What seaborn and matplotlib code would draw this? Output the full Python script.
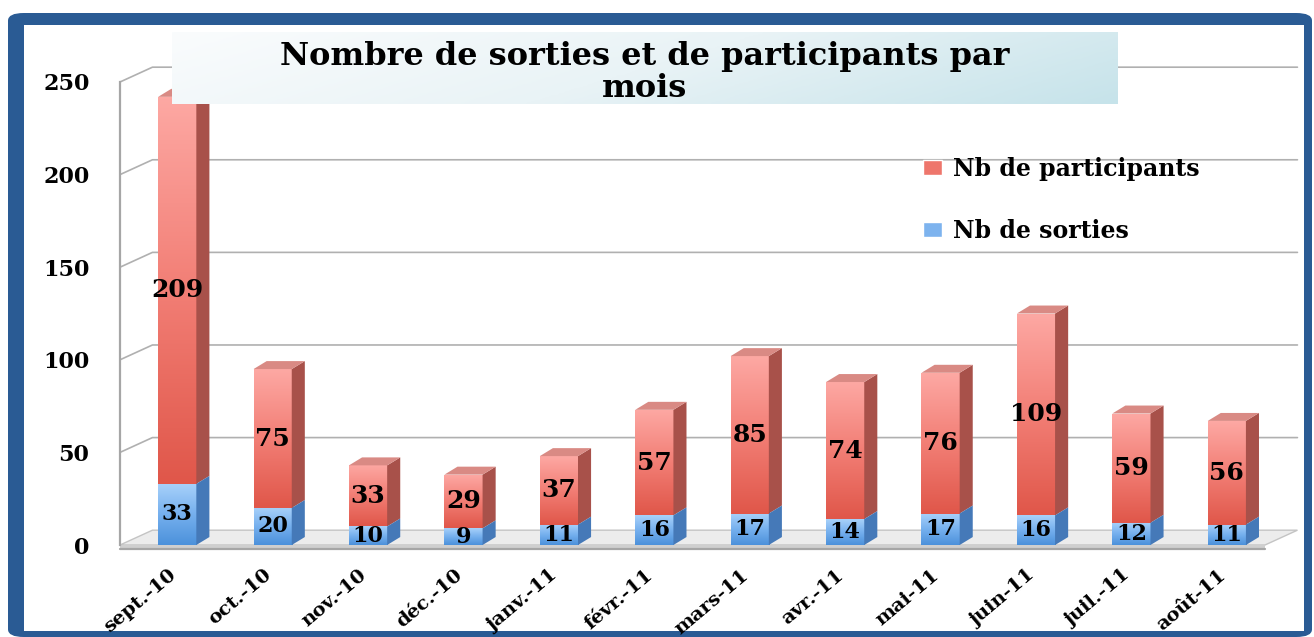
import numpy as np
import pandas as pd
import seaborn as sns
import matplotlib.pyplot as plt
from matplotlib.patches import Polygon, Rectangle, FancyBboxPatch
from matplotlib.colors import LinearSegmentedColormap

# donnees
mois = ['sept.-10', 'oct.-10', 'nov.-10', 'déc.-10', 'janv.-11', 'févr.-11',
        'mars-11', 'avr.-11', 'mai-11', 'juin-11', 'juil.-11', 'août-11']
nb_sorties = [33, 20, 10, 9, 11, 16, 17, 14, 17, 16, 12, 11]
nb_participants = [209, 75, 33, 29, 37, 57, 85, 74, 76, 109, 59, 56]
y_ticks = [0, 50, 100, 150, 200, 250]

dados = pd.DataFrame({'mois': mois, 'sorties': nb_sorties, 'participants': nb_participants})
dados['total'] = dados['sorties'] + dados['participants']

sns.set_style('white')
plt.rcParams['font.family'] = ['DejaVu Serif']
plt.rcParams['font.weight'] = 'bold'
plt.rcParams['text.color'] = 'black'
plt.rcParams['xtick.labelcolor'] = 'black'
plt.rcParams['ytick.labelcolor'] = 'black'

W, H = 1314, 637
fig = plt.figure(figsize=(W / 100, H / 100), dpi=100)

# cadre bleu
fig.patches.append(FancyBboxPatch((8 / W, 0), 1304 / W, 624 / H, boxstyle='round,pad=0,rounding_size=0.012',
                                  transform=fig.transFigure, facecolor='#2A5B94', edgecolor='none', zorder=-2))
fig.patches.append(Rectangle((24 / W, 6 / H), 1280 / W, 606 / H, transform=fig.transFigure,
                             facecolor='white', edgecolor='none', zorder=-1))

ax = fig.add_axes([120 / W, (H - 545) / H, (1265 - 120) / W, (545 - 82) / H])
ax.patch.set_alpha(0)

rouge = '#E45B4E'
bleu = '#5B9BE0'
sns.barplot(x='mois', y='total', data=dados, color=rouge, width=0.4, ax=ax, order=mois)
sns.barplot(x='mois', y='sorties', data=dados, color=bleu, width=0.4, ax=ax, order=mois)

xmin, xmax = -0.6, 11.4
ax.set_xlim(xmin, xmax)
ax.set_ylim(0, 250)

dx, dy = 0.137, 4.3      # profondeur des barres
ddx, ddy = 0.34, 8.0     # profondeur du mur / sol

cmap_r = LinearSegmentedColormap.from_list('r', ['#E0574A', '#F27E75', '#FDA8A3'])
cmap_b = LinearSegmentedColormap.from_list('b', ['#4C91DB', '#76B0EE', '#A8D1FA'])
grad = np.linspace(0, 1, 100).reshape(-1, 1)

patches = list(ax.patches)
n = len(mois)
for i in range(n):
    pr = patches[i]
    pb = patches[n + i]
    x, w = pr.get_x(), pr.get_width()
    t = pr.get_height()
    s = pb.get_height()
    for p in (pr, pb):
        p.set_facecolor('none')
        p.set_edgecolor('none')
    # face avant en degrade
    for (b0, b1, cm, z) in ((s, t, cmap_r, 2.1), (0, s, cmap_b, 2.2)):
        rect = Rectangle((x, b0), w, b1 - b0, transform=ax.transData, facecolor='none', edgecolor='none')
        ax.add_patch(rect)
        im = ax.imshow(grad, cmap=cm, extent=(x, x + w, b0, b1), origin='lower', aspect='auto',
                       zorder=z, interpolation='bilinear')
        im.set_clip_path(rect)
    # cotes
    ax.add_patch(Polygon([(x + w, s), (x + w + dx, s + dy), (x + w + dx, t + dy), (x + w, t)],
                         facecolor='#A8514A', edgecolor='none', zorder=2.1))
    ax.add_patch(Polygon([(x + w, 0), (x + w + dx, dy), (x + w + dx, s + dy), (x + w, s)],
                         facecolor='#4579B8', edgecolor='none', zorder=2.2))
    ax.add_patch(Polygon([(x, t), (x + w, t), (x + w + dx, t + dy), (x + dx, t + dy)],
                         facecolor='#D98A84', edgecolor='none', zorder=2.1))
    # etiquettes
    ax.text(x + w / 2, s + (t - s) / 2, str(int(round(t - s))), ha='center', va='center', fontsize=18,
            fontweight='bold', zorder=4)
    ax.text(x + w / 2, s / 2, str(int(round(s))), ha='center', va='center', fontsize=16,
            fontweight='bold', zorder=4)

ax.set_xlim(xmin, xmax)
ax.set_ylim(0, 250)

# sol
ax.add_patch(Polygon([(xmin, 0), (xmax, 0), (xmax + ddx, ddy), (xmin + ddx, ddy)],
                     facecolor='#ECECEC', edgecolor='#C4C4C4', lw=1, zorder=1.5, clip_on=False))
ax.add_patch(Polygon([(xmin, 0), (xmax, 0), (xmax, -2.0), (xmin, -2.0)],
                     facecolor='#CFCFCF', edgecolor='none', zorder=1.5, clip_on=False))

# grille sur le mur du fond
for yt in y_ticks[1:]:
    ax.plot([xmin, xmin + ddx, xmax + ddx], [yt, yt + ddy, yt + ddy], color='#B0B0B0', lw=1.2,
            zorder=1, clip_on=False)

sns.despine(ax=ax, top=True, right=True, bottom=True, left=False)
ax.spines['left'].set_color('#A6A6A6')
ax.spines['left'].set_linewidth(1.6)
ax.axhline(-2.0, color='#A6A6A6', lw=1.6, clip_on=False, zorder=1.6)

ax.set_yticks(y_ticks)
ax.set_yticklabels([str(v) for v in y_ticks], fontsize=16, fontweight='bold')
ax.tick_params(axis='y', length=8, color='#A6A6A6', width=1.4, pad=14)

ax.set_xticks([i - 0.1 for i in range(n)])
ax.set_xticklabels(mois, rotation=40, ha='right', rotation_mode='anchor', fontsize=14, fontweight='bold')
ax.set_xticks([xmin + i for i in range(n + 1)], minor=True)
ax.tick_params(axis='x', which='major', length=0, pad=15)
ax.tick_params(axis='x', which='minor', length=6, color='#A6A6A6', width=1.4)
ax.set_xlim(xmin, xmax)
ax.set_xlabel('')
ax.set_ylabel('')

# legende
h1 = Rectangle((0, 0), 1, 1, facecolor='#EE766C')
h2 = Rectangle((0, 0), 1, 1, facecolor='#7DB3EE')
fig.legend([h1, h2], ['Nb de participants', 'Nb de sorties'], loc='upper left',
           bbox_to_anchor=(902 / W, (H - 136) / H), frameon=False, labelspacing=1.6,
           handlelength=0.8, handleheight=0.6, handletextpad=0.45,
           prop={'family': 'DejaVu Serif', 'weight': 'bold', 'size': 17})

# titre
tax = fig.add_axes([172 / W, (H - 104) / H, 946 / W, 72 / H])
gx = np.linspace(0, 1, 200)
gy = np.linspace(0, 1, 40)
GX, GY = np.meshgrid(gx, gy)
cmap_t = LinearSegmentedColormap.from_list('t', ['#FAFCFD', '#E9F3F6', '#C6E3EA'])
tax.imshow(0.8 * GX + 0.2 * GY, cmap=cmap_t, aspect='auto', extent=(0, 1, 0, 1))
tax.axis('off')
tax.text(0.5, 0.44, 'Nombre de sorties et de participants par\nmois', ha='center', va='center',
         fontsize=23, fontweight='bold', linespacing=1.05, transform=tax.transAxes)

plt.savefig('out.png', dpi=100)
